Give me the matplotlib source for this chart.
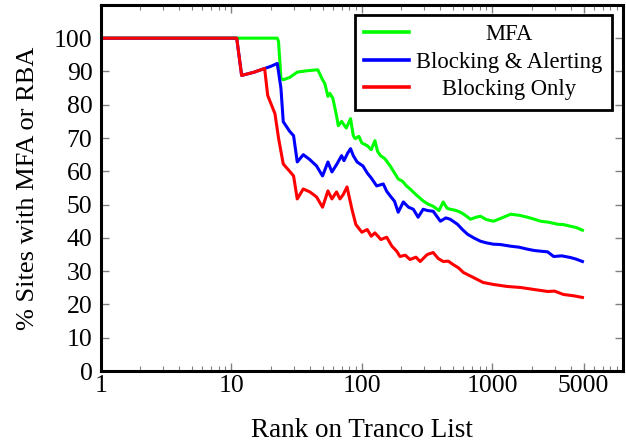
"""Share of top-ranked sites offering MFA / risk-based blocking, by Tranco rank (log x)."""
import matplotlib
matplotlib.use("Agg")
import matplotlib.pyplot as plt

plt.rcParams["font.family"] = ["Liberation Serif", "DejaVu Serif"]

# values (rank, % of sites)
mfa_rank = [1, 10, 22.5, 23, 24, 25, 28, 32, 38, 46, 50, 52, 55, 57, 60, 64, 66, 70, 72, 76, 82, 86,
            89, 95, 100, 110, 118, 126, 132, 139, 150, 165, 178, 190, 205, 220, 234, 260, 295, 320,
            352, 390, 420, 450, 475, 520, 570, 620, 680, 750, 810, 900, 1020, 1150, 1380, 1600,
            1860, 2100, 2340, 2700, 3160, 3500, 3960, 4400, 4900]
mfa_pct = [100, 100, 100, 99, 88, 87.5, 88.2, 89.8, 90.2, 90.5, 87.5, 86.4, 82.5, 83.4, 81.9, 76.7,
           73.7, 75.0, 74.3, 73.0, 75.8, 70.7, 69.8, 70.5, 68.5, 67.7, 66.5, 69.2, 66.0, 64.7, 63.8,
           61.6, 59.5, 57.7, 57.0, 55.6, 54.7, 53.0, 51.1, 50.2, 49.5, 48.2, 50.8, 48.9, 48.6, 48.3,
           47.7, 46.8, 45.6, 46.2, 46.5, 45.5, 45.0, 45.8, 47.1, 46.8, 46.2, 45.6, 45.0, 44.7, 44.1,
           44.0, 43.5, 43.1, 42.3]

ba_rank = [1, 11, 12, 15, 18, 20, 22.5, 24, 25, 28, 30, 32, 35.6, 40, 45, 50, 55, 59, 64, 70, 73,
           78, 82, 86, 92, 102, 110, 118, 130, 146, 155, 165, 178, 190, 208, 228, 248, 270, 295, 320,
           352, 400, 440, 475, 540, 590, 645, 720, 810, 900, 1020, 1150, 1380, 1600, 1860, 2100,
           2340, 2650, 2950, 3400, 3960, 4400, 4900]
ba_pct = [100, 100, 88.8, 89.8, 90.9, 91.5, 92.4, 85, 74.9, 72.0, 70.7, 62.8, 65.0, 63.5, 61.6, 58.6,
          62.8, 59.8, 62.0, 64.7, 63.2, 65.5, 66.8, 64.7, 62.8, 61.6, 59.5, 58.0, 55.6, 56.2, 54.0,
          52.6, 51.0, 47.7, 50.8, 49.2, 48.6, 46.2, 48.6, 48.2, 48.0, 45.0, 46.0, 45.6, 44.1, 42.5,
          41.1, 40.0, 39.0, 38.5, 38.1, 38.0, 37.5, 37.2, 36.6, 36.2, 36.0, 35.8, 34.4, 34.6, 34.1,
          33.6, 32.9]

bo_rank = [1, 11, 12, 15, 18, 19, 21.6, 23, 25, 28, 30, 32, 35.6, 40, 45, 50, 55, 59, 64, 68, 72,
           77, 84, 90, 100, 110, 118, 126, 140, 155, 170, 185, 196, 215, 234, 260, 280, 317, 352,
           385, 420, 460, 500, 550, 600, 715, 850, 1020, 1300, 1640, 2080, 2650, 3000, 3500, 4200,
           4900]
bo_pct = [100, 100, 88.8, 89.8, 90.9, 82.8, 77.3, 70.0, 62.2, 60.0, 58.6, 51.7, 54.7, 53.8, 52.3,
          49.2, 54.1, 51.7, 53.8, 51.7, 53.0, 55.3, 48.6, 44.0, 41.7, 42.5, 40.5, 41.5, 39.5, 40.2,
          37.5, 36.0, 34.4, 34.8, 33.5, 34.2, 32.9, 35.0, 35.6, 33.8, 32.9, 33.0, 32.0, 31.0, 29.6,
          28.1, 26.6, 26.0, 25.4, 25.1, 24.5, 23.9, 24.0, 23.0, 22.6, 22.1]

x_ticks = [1, 10, 100, 1000, 5000]
x_tick_labels = ["1", "10", "100", "1000", "5000"]
y_ticks = list(range(0, 101, 10))

fig = plt.figure(figsize=(6.26, 4.43), dpi=100)
ax = fig.add_axes([0.161, 0.1625, 0.834, 0.8265])

ax.plot(mfa_rank, mfa_pct, color="#00ff00", lw=2.2, label="MFA")
ax.plot(ba_rank, ba_pct, color="#0000ff", lw=2.2, label="Blocking & Alerting")
ax.plot(bo_rank, bo_pct, color="#ff0000", lw=2.2, label="Blocking Only")

ax.set_xscale("log")
ax.set_xlim(1, 10000)
ax.set_ylim(0, 110)
ax.set_xticks(x_ticks)
ax.set_xticklabels(x_tick_labels)
ax.set_yticks(y_ticks)
ax.tick_params(which="both", direction="in", top=True, right=True, color="#808080",
               labelsize=18.5)
ax.tick_params(axis="x", pad=3)
ax.tick_params(axis="y", pad=6)
ax.tick_params(which="major", length=6, width=1)
ax.tick_params(which="minor", length=3.5, width=0.8)
for s in ax.spines.values():
    s.set_linewidth(2.2)

ax.set_xlabel("Rank on Tranco List", fontsize=19.5, labelpad=15)
ax.set_ylabel("% Sites with MFA or RBA", fontsize=19, labelpad=11)

leg = ax.legend(loc="upper right", bbox_to_anchor=(0.979, 0.973), borderaxespad=0,
                fontsize=16.3, frameon=True, fancybox=False, edgecolor="black", framealpha=1,
                handlelength=2.0, borderpad=0.42, labelspacing=0.29, handletextpad=0.3)
leg.get_frame().set_linewidth(2)
for h in leg.get_lines():
    h.set_linewidth(2.6)

# center the legend texts like the original
fig.canvas.draw()
widths = [t.get_window_extent().width for t in leg.get_texts()]
wmax = max(widths)
for t, w in zip(leg.get_texts(), widths):
    t.set_ha("center")
    t.set_position(((wmax - w) * 0.5, 0))

fig.savefig("out.png", dpi=100)
